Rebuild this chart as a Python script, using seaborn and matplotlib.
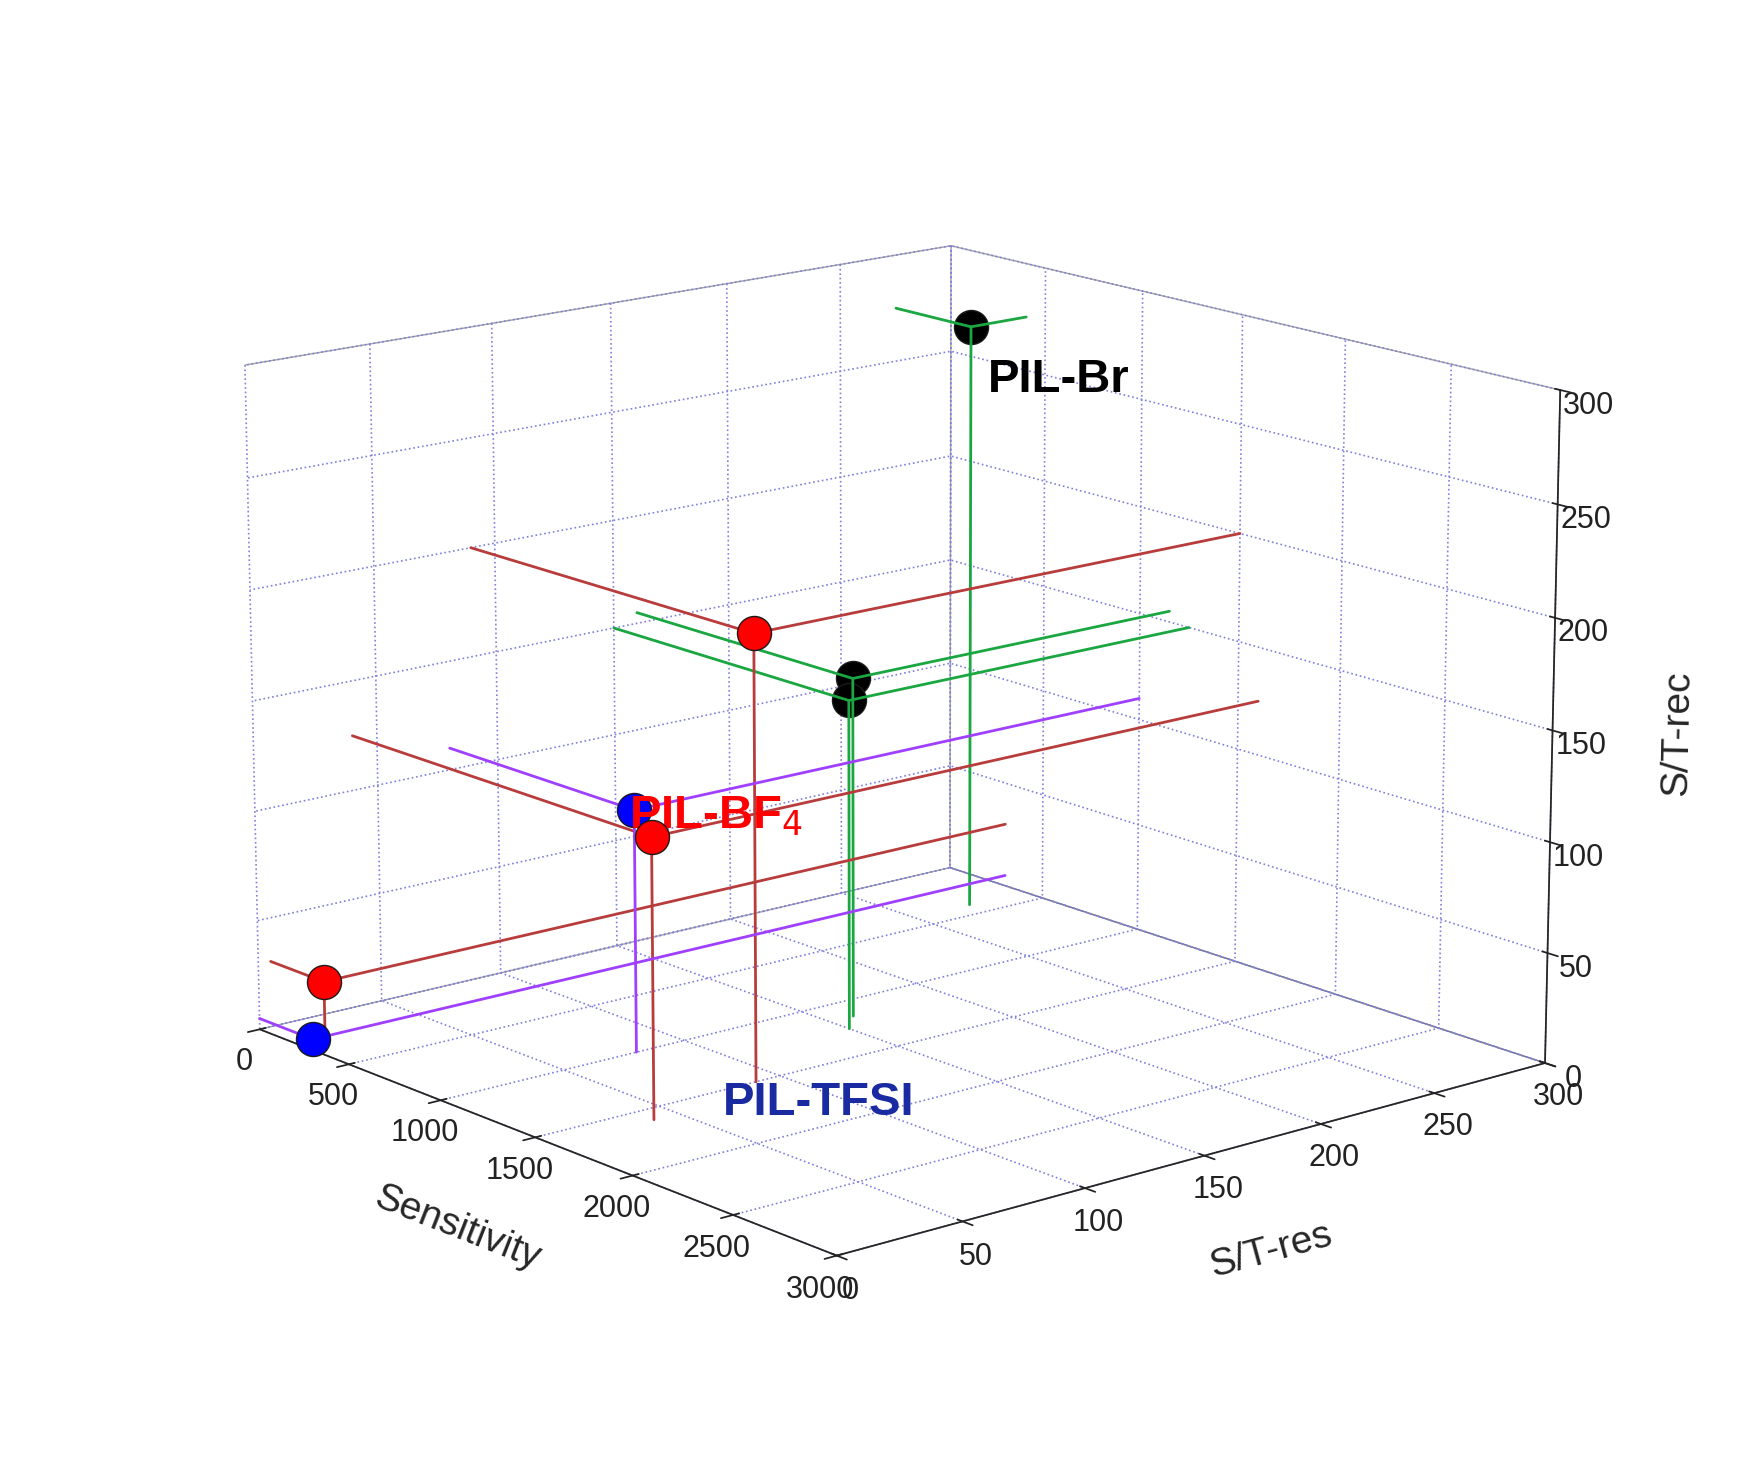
import numpy as np
import matplotlib
matplotlib.use("Agg")
import matplotlib.pyplot as plt
import seaborn as sns

sns.set_theme(style="white")
plt.rcParams['font.family'] = ['Liberation Sans', 'DejaVu Sans']

# data (estimates)
groups = ["PIL-Br", "PIL-BF$_4$", "PIL-TFSI"]
colors = ["black", "red", "blue"]
line_colors = ["#1aa640", "#b83c3c", "#a040ff"]
sens = [[400, 1250, 1150], [300, 1600, 1500], [300, 1000]]
res = [[275, 150, 160], [5, 40, 90], [0, 80]]
rec = [[275, 150, 155], [30, 125, 200], [5, 110]]

fig = plt.figure(figsize=(17.57, 14.7), dpi=100)
ax = fig.add_subplot(111, projection="3d")
ax.view_init(elev=15, azim=-40)

for g, c, lc, xs, ys, zs in zip(groups, colors, line_colors, sens, res, rec):
    for x, y, z in zip(xs, ys, zs):
        ax.plot([x, x], [y, y], [0, z], color=lc, lw=2)
        ax.plot([0, x], [y, y], [z, z], color=lc, lw=2)
        ax.plot([x, x], [y, 300], [z, z], color=lc, lw=2)
    ax.scatter(xs, ys, zs, color=c, s=600, depthshade=False, edgecolor="k")

ax.set_xlim(0, 3000)
ax.set_ylim(0, 300)
ax.set_zlim(0, 300)
ax.set_xticks(np.arange(0, 3001, 500))
ax.set_yticks(np.arange(0, 301, 50))
ax.set_zticks(np.arange(0, 301, 50))
ax.tick_params(labelsize=22, colors="#222222")
ax.set_xlabel("Sensitivity", fontsize=28, labelpad=35)
ax.set_ylabel("S/T-res", fontsize=28, labelpad=35)
ax.set_zlabel("S/T-rec", fontsize=28, labelpad=30)
for a in (ax.xaxis, ax.yaxis, ax.zaxis):
    a.pane.fill = False
    a.pane.set_edgecolor("#444444")
    a._axinfo["grid"].update(color="#8080dd", linestyle=":", linewidth=1.2)

ax.text(200, 300, 235, "PIL-Br", color="black", fontsize=34, fontweight="bold")
ax.text(2000, 0, 150, "PIL-BF$_4$", color="red", fontsize=34, fontweight="bold")
ax.text(1700, 60, 0, "PIL-TFSI", color="#1a2aa0", fontsize=34, fontweight="bold",
        rotation=-20)

plt.tight_layout()
plt.savefig("out.png", dpi=100)
